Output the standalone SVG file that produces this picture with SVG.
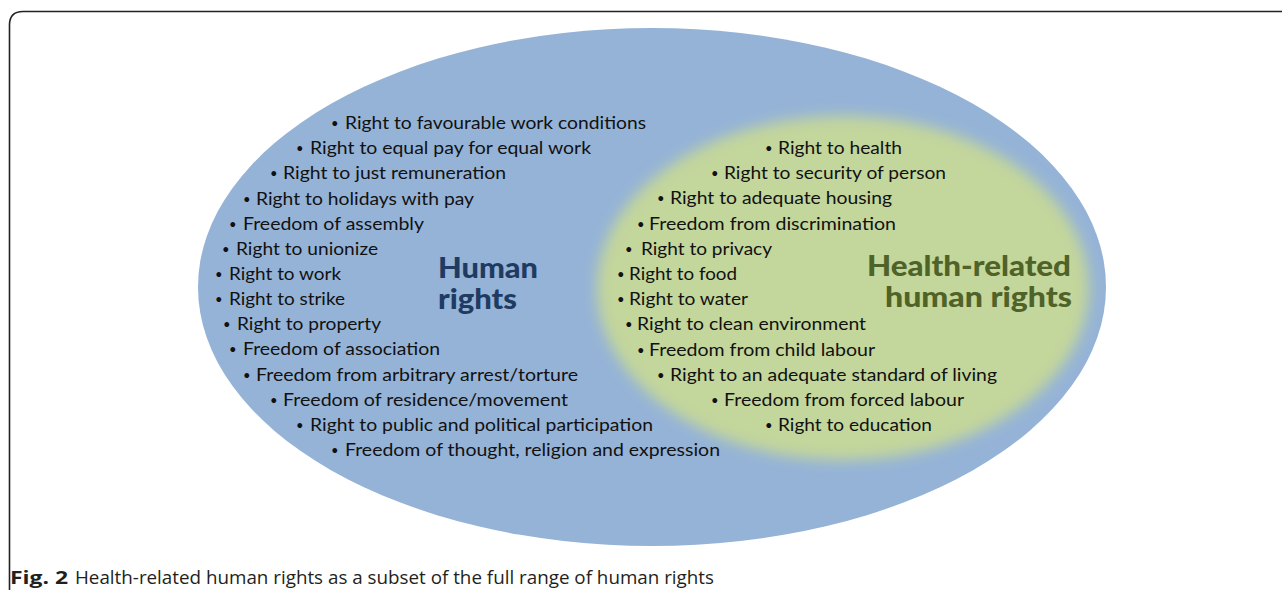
<svg xmlns="http://www.w3.org/2000/svg" width="1282" height="590" viewBox="0 0 1282 590">
<style>
.t{font-family:Lato,"Open Sans","Liberation Sans",sans-serif;font-size:18px;fill:#111;}
.b{font-family:Lato,"Open Sans","Liberation Sans",sans-serif;font-size:13px;fill:#111;}
.h1{font-family:Lato,"Open Sans","Liberation Sans",sans-serif;font-size:28px;font-weight:900;fill:#1F3B62;}
.h2{font-family:Lato,"Open Sans","Liberation Sans",sans-serif;font-size:28px;font-weight:900;fill:#4F6228;}
.cap{font-family:"Open Sans","Liberation Sans",sans-serif;font-size:18px;fill:#231F20;}
</style>
<defs>
<filter id="soft" x="-15%" y="-15%" width="130%" height="130%">
<feGaussianBlur stdDeviation="7"/>
</filter>
</defs>
<rect width="1282" height="590" fill="#fff"/>
<path d="M9.5,590 V25 Q9.5,11.5 23,11.5 H1282" fill="none" stroke="#222" stroke-width="1.6"/>
<g id="human-rights">
<ellipse cx="652" cy="287" rx="454" ry="259" fill="#95B3D7"/>
<text class="h1" x="438" y="278" textLength="100" lengthAdjust="spacingAndGlyphs">Human</text>
<text class="h1" x="438" y="309" textLength="79" lengthAdjust="spacingAndGlyphs">rights</text>
<g id="hr-list">
<text class="b" x="331" y="128">•</text><text class="t" x="345" y="129" textLength="301" lengthAdjust="spacingAndGlyphs">Right to favourable work conditions</text>
<text class="b" x="296" y="153.2">•</text><text class="t" x="310" y="154.2" textLength="281" lengthAdjust="spacingAndGlyphs">Right to equal pay for equal work</text>
<text class="b" x="270" y="178.3">•</text><text class="t" x="283" y="179.3" textLength="223" lengthAdjust="spacingAndGlyphs">Right to just remuneration</text>
<text class="b" x="243" y="203.5">•</text><text class="t" x="256" y="204.5" textLength="218" lengthAdjust="spacingAndGlyphs">Right to holidays with pay</text>
<text class="b" x="229" y="228.6">•</text><text class="t" x="243" y="229.6" textLength="181" lengthAdjust="spacingAndGlyphs">Freedom of assembly</text>
<text class="b" x="222" y="253.8">•</text><text class="t" x="236" y="254.8" textLength="142" lengthAdjust="spacingAndGlyphs">Right to unionize</text>
<text class="b" x="215" y="278.9">•</text><text class="t" x="229" y="279.9" textLength="112" lengthAdjust="spacingAndGlyphs">Right to work</text>
<text class="b" x="215" y="304">•</text><text class="t" x="229" y="305" textLength="116" lengthAdjust="spacingAndGlyphs">Right to strike</text>
<text class="b" x="223" y="329.2">•</text><text class="t" x="237" y="330.2" textLength="144" lengthAdjust="spacingAndGlyphs">Right to property</text>
<text class="b" x="229" y="354.4">•</text><text class="t" x="243" y="355.4" textLength="197" lengthAdjust="spacingAndGlyphs">Freedom of association</text>
<text class="b" x="243" y="379.5">•</text><text class="t" x="256" y="380.5" textLength="322" lengthAdjust="spacingAndGlyphs">Freedom from arbitrary arrest/torture</text>
<text class="b" x="270" y="404.6">•</text><text class="t" x="283" y="405.6" textLength="285" lengthAdjust="spacingAndGlyphs">Freedom of residence/movement</text>
<text class="b" x="296" y="429.8">•</text><text class="t" x="310" y="430.8" textLength="343" lengthAdjust="spacingAndGlyphs">Right to public and political participation</text>
<text class="b" x="331" y="455">•</text><text class="t" x="345" y="456" textLength="375" lengthAdjust="spacingAndGlyphs">Freedom of thought, religion and expression</text>
</g>
</g>
<g id="health-related-human-rights">
<ellipse cx="843" cy="288" rx="246" ry="172" fill="#C3D69B" filter="url(#soft)"/>
<text class="h2" x="867" y="276" textLength="204" lengthAdjust="spacingAndGlyphs">Health-related</text>
<text class="h2" x="885" y="307" textLength="187" lengthAdjust="spacingAndGlyphs">human rights</text>
<g id="hhr-list">
<text class="b" x="765" y="153">•</text><text class="t" x="778" y="154" textLength="124" lengthAdjust="spacingAndGlyphs">Right to health</text>
<text class="b" x="711" y="178.2">•</text><text class="t" x="724" y="179.2" textLength="222" lengthAdjust="spacingAndGlyphs">Right to security of person</text>
<text class="b" x="657" y="203.4">•</text><text class="t" x="670" y="204.4" textLength="222" lengthAdjust="spacingAndGlyphs">Right to adequate housing</text>
<text class="b" x="637" y="228.6">•</text><text class="t" x="649" y="229.6" textLength="247" lengthAdjust="spacingAndGlyphs">Freedom from discrimination</text>
<text class="b" x="625" y="253.8">•</text><text class="t" x="641" y="254.8" textLength="131" lengthAdjust="spacingAndGlyphs">Right to privacy</text>
<text class="b" x="617" y="279">•</text><text class="t" x="629" y="280" textLength="108" lengthAdjust="spacingAndGlyphs">Right to food</text>
<text class="b" x="617" y="304.2">•</text><text class="t" x="629" y="305.2" textLength="119" lengthAdjust="spacingAndGlyphs">Right to water</text>
<text class="b" x="625" y="329.4">•</text><text class="t" x="637" y="330.4" textLength="229" lengthAdjust="spacingAndGlyphs">Right to clean environment</text>
<text class="b" x="637" y="354.6">•</text><text class="t" x="649" y="355.6" textLength="226" lengthAdjust="spacingAndGlyphs">Freedom from child labour</text>
<text class="b" x="657" y="379.8">•</text><text class="t" x="670" y="380.8" textLength="327" lengthAdjust="spacingAndGlyphs">Right to an adequate standard of living</text>
<text class="b" x="711" y="405">•</text><text class="t" x="724" y="406" textLength="240" lengthAdjust="spacingAndGlyphs">Freedom from forced labour</text>
<text class="b" x="765" y="430.2">•</text><text class="t" x="778" y="431.2" textLength="154" lengthAdjust="spacingAndGlyphs">Right to education</text>
</g>
</g>
<g id="connectors"/>
<g id="caption">
<text class="cap" x="10" y="584" font-weight="700" textLength="58" lengthAdjust="spacingAndGlyphs">Fig. 2</text>
<text class="cap" x="75" y="584" textLength="639" lengthAdjust="spacingAndGlyphs">Health-related human rights as a subset of the full range of human rights</text>
</g>
</svg>
